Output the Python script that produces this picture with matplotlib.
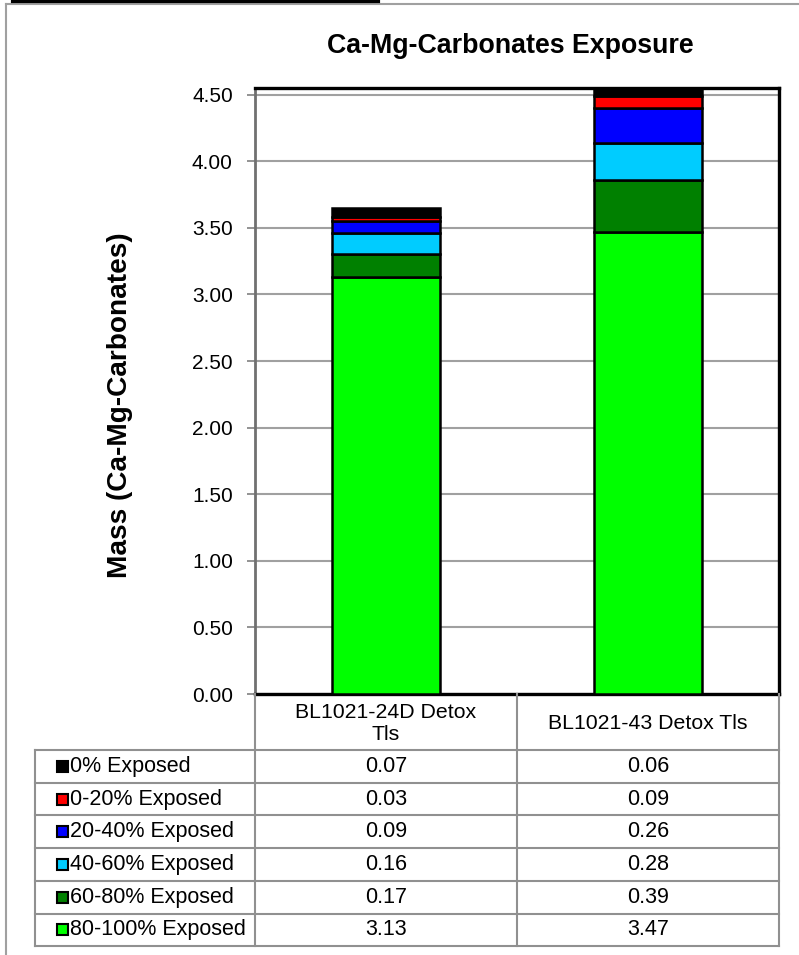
import matplotlib
matplotlib.use("Agg")
import matplotlib.pyplot as plt
from matplotlib.lines import Line2D
from matplotlib.patches import Rectangle

plt.rcParams['font.family'] = ['Liberation Sans', 'DejaVu Sans']

categories = ["BL1021-24D Detox\nTls", "BL1021-43 Detox Tls"]
series_names = ["0% Exposed", "0-20% Exposed", "20-40% Exposed",
                "40-60% Exposed", "60-80% Exposed", "80-100% Exposed"]
series_colors = ["#000000", "#FF0000", "#0000FF", "#00CCFF", "#008000", "#00FF00"]
v_0 = [0.07, 0.06]
v_0_20 = [0.03, 0.09]
v_20_40 = [0.09, 0.26]
v_40_60 = [0.16, 0.28]
v_60_80 = [0.17, 0.39]
v_80_100 = [3.13, 3.47]
series_values = [v_0, v_0_20, v_20_40, v_40_60, v_60_80, v_80_100]
yticks = [0.0, 0.5, 1.0, 1.5, 2.0, 2.5, 3.0, 3.5, 4.0, 4.5]

W, H = 799, 955
fig = plt.figure(figsize=(W / 100, H / 100), dpi=100)

def fx(x):
    return x / W

def fy(y):
    return 1 - y / H

# plot area in pixels
L, R, T, B = 255, 779, 88, 694
ax = fig.add_axes([fx(L), fy(B), (R - L) / W, (B - T) / H])

x = list(range(len(categories)))
bottom = [0.0] * len(categories)
# stack from bottom (80-100%) to top (0%)
for name, col, vals in reversed(list(zip(series_names, series_colors, series_values))):
    ax.bar(x, vals, width=0.41, bottom=bottom, color=col, edgecolor="black",
           linewidth=1.8, zorder=3)
    bottom = [b + v for b, v in zip(bottom, vals)]

ax.set_xlim(-0.5, 1.5)
ax.set_ylim(0, 4.55)
ax.set_yticks(yticks)
ax.set_yticklabels([f"{t:.2f}" for t in yticks], fontsize=15)
ax.set_xticks([])
ax.tick_params(axis='y', direction='out', length=6, width=1.2, color="#808080", pad=10)
ax.grid(axis='y', color="#A0A0A0", linewidth=1.5, zorder=0)
for s in ax.spines.values():
    s.set_color("black")
    s.set_linewidth(2.4)
ax.spines['left'].set_color("#707070")
ax.spines['left'].set_linewidth(2)

# title and y label
fig.text(fx(510), fy(46), "Ca-Mg-Carbonates Exposure", ha="center", va="center",
         fontsize=19.3, fontweight="bold")
fig.text(fx(120), fy(405), "Mass (Ca-Mg-Carbonates)", ha="center", va="center",
         rotation=90, fontsize=20.2, fontweight="bold")

# data table
gray = "#909090"
col_edges = [L, (L + R) / 2, R]
col_centers = [(col_edges[0] + col_edges[1]) / 2, (col_edges[1] + col_edges[2]) / 2]
row_top = 750
row_h = 32.7
n_rows = len(series_names)
label_left = 35

def hline(y, x0, x1, color=gray, lw=1.5):
    fig.add_artist(Line2D([fx(x0), fx(x1)], [fy(y), fy(y)], color=color, linewidth=lw))

def vline(x, y0, y1, color=gray, lw=1.5):
    fig.add_artist(Line2D([fx(x), fx(x)], [fy(y0), fy(y1)], color=color, linewidth=lw))

# header
vline(L, B, row_top + n_rows * row_h)
vline(col_edges[1], B, row_top + n_rows * row_h)
vline(R, B, row_top + n_rows * row_h)
vline(label_left, row_top, row_top + n_rows * row_h)
for i in range(n_rows + 1):
    hline(row_top + i * row_h, label_left, R)

for cx, cat in zip(col_centers, categories):
    fig.text(fx(cx), fy((B + row_top) / 2 + 1), cat, ha="center", va="center",
             fontsize=15.3, linespacing=1.2)

for i, (name, col) in enumerate(zip(series_names, series_colors)):
    yc = row_top + (i + 0.5) * row_h
    fig.add_artist(Rectangle((fx(57), fy(yc + 5.5)), 11 / W, 11 / H,
                             facecolor=col, edgecolor="black", linewidth=1.5))
    fig.text(fx(70), fy(yc), name, ha="left", va="center", fontsize=15.5)
    for cx, v in zip(col_centers, series_values[i]):
        fig.text(fx(cx), fy(yc), f"{v:.2f}", ha="center", va="center", fontsize=15.5)

# outer chart border and top decoration
hline(4, 6, W, color="#A0A0A0", lw=1.5)
vline(6, 4, H, color="#A0A0A0", lw=1.5)
hline(1, 13, 378, color="black", lw=3)

fig.savefig("out.png", dpi=100)
